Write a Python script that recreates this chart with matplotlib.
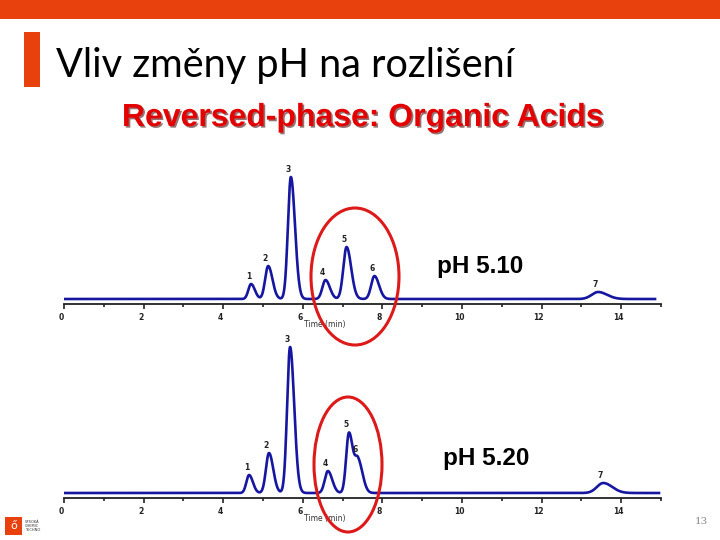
import matplotlib
matplotlib.use('Agg')
import matplotlib.pyplot as plt
import numpy as np
from matplotlib.patches import Ellipse, Rectangle
import matplotlib.patheffects as pe
import matplotlib.transforms as mtransforms
from matplotlib.ticker import MultipleLocator

# ---------------- data ----------------
peak_labels = ['1', '2', '3', '4', '5', '6', '7']

# pH 5.10 chromatogram: retention time (min), height (rel. units), sigma (min)
top_rt = [4.70, 5.13, 5.70, 6.57, 7.10, 7.80, 13.42]
top_height = [15, 33, 122, 19, 52, 23, 7]
top_sigma = [0.068, 0.076, 0.074, 0.078, 0.082, 0.082, 0.16]

# pH 5.20 chromatogram
bot_rt = [4.65, 5.15, 5.68, 6.63, 7.16, 7.39, 13.55]
bot_height = [18, 40, 146, 22, 60, 32, 10]
bot_sigma = [0.068, 0.076, 0.074, 0.078, 0.070, 0.080, 0.16]

x_ticks = [0, 2, 4, 6, 8, 10, 12, 14]
x_label = 'Time (min)'
ph_labels = ['pH 5.10', 'pH 5.20']

title = 'Vliv změny pH na rozlišení'
subtitle = 'Reversed-phase: Organic Acids'
page_no = '13'

# ---------------- figure ----------------
W, H = 720, 540
fig = plt.figure(figsize=(7.2, 5.4), dpi=100)
fig.patch.set_facecolor('white')

ORANGE = '#E8410E'
BLUE = '#1616A0'
RED = '#DD1A1A'

def fx(px):
    return px / W

def fy(py):
    return 1 - py / H

def chromatogram(t, rts, hs, sigs, tail=1.4):
    t = np.asarray(t, dtype=float)
    y = np.zeros_like(t)
    for rt, h, s in zip(rts, hs, sigs):
        sl = np.where(t < rt, s, s * tail)
        y += h * np.exp(-0.5 * ((t - rt) / sl) ** 2)
    return y

def make_axes(axis_py, top_py, rts, hs, sigs, t_end):
    left, right = 64, 661
    ax = fig.add_axes([fx(left), fy(axis_py), fx(right - left), (axis_py - top_py) / H])
    t = np.linspace(0, t_end, 4000)
    y = chromatogram(t, rts, hs, sigs)
    ax.plot(t, y, color=BLUE, lw=1.9, solid_joinstyle='round')
    ax.set_xlim(0, 15)
    ax.set_ylim(-5, axis_py - top_py - 5)
    for s in ['top', 'right', 'left']:
        ax.spines[s].set_visible(False)
    ax.spines['bottom'].set_linewidth(1.3)
    ax.spines['bottom'].set_color('#222222')
    ax.set_yticks([])
    ax.set_xticks(x_ticks)
    ax.xaxis.set_minor_locator(MultipleLocator(1))
    ax.tick_params(axis='x', which='major', length=3.5, width=1.2, direction='out',
                   labelsize=5.5, pad=3, colors='#222222')
    ax.tick_params(axis='x', which='minor', length=2, width=1.2, direction='out', colors='#222222')
    off = mtransforms.ScaledTranslation(-3 / 100, 0, fig.dpi_scale_trans)
    for lab in ax.get_xticklabels():
        lab.set_transform(lab.get_transform() + off)
        lab.set_fontweight('bold')
    ax.patch.set_alpha(0)
    label_y = chromatogram(rts, rts, hs, sigs)
    for lab, rt, h in zip(peak_labels, rts, label_y):
        ax.annotate(lab, (rt, h), xytext=(-2, 2.5), textcoords='offset points',
                    ha='center', va='bottom', fontsize=5.5, fontweight='bold', color='#222222')
    xl = ax.text(6.56, -5, x_label, transform=ax.transData, ha='center', va='top',
                 fontsize=5.5, color='#333333')
    xl.set_transform(xl.get_transform() + mtransforms.ScaledTranslation(0, -16 / 100, fig.dpi_scale_trans))
    return ax

ax_top = make_axes(304, 165, top_rt, top_height, top_sigma, 14.85)
ax_bot = make_axes(498, 335, bot_rt, bot_height, bot_sigma, 14.95)

# ---------------- overlay / slide decoration ----------------
ov = fig.add_axes([0, 0, 1, 1], zorder=10)
ov.set_xlim(0, W)
ov.set_ylim(H, 0)
ov.axis('off')
ov.patch.set_alpha(0)

ov.add_patch(Rectangle((0, 0), W, 19, color=ORANGE, lw=0))
ov.add_patch(Rectangle((24, 32), 16, 55, color=ORANGE, lw=0))

ov.text(56, 66, title, fontsize=28.6, family=['Lato', 'DejaVu Sans'], color='black',
        ha='left', va='center')

ov.text(363, 118, subtitle, fontsize=23, family=['Liberation Sans'],
        fontweight='bold', color='#E50000', ha='center', va='center',
        path_effects=[pe.withSimplePatchShadow(offset=(1.2, -1.2), shadow_rgbFace='#400000', alpha=0.55)])

ov.text(437, 266, ph_labels[0], fontsize=17.5, family='Liberation Sans', fontweight='bold',
        color='black', ha='left', va='center')
ov.text(443, 458, ph_labels[1], fontsize=17.5, family='Liberation Sans', fontweight='bold',
        color='black', ha='left', va='center')

ov.add_patch(Ellipse((355, 276.5), 88, 137, fill=False, ec=RED, lw=2.2))
ov.add_patch(Ellipse((348, 464.5), 68, 135, fill=False, ec=RED, lw=2.2))

# logo
ov.add_patch(Rectangle((5, 517), 17, 18, color=ORANGE, lw=0))
ov.text(13.5, 526, 'ő', fontsize=8, color='white', ha='center', va='center')
ov.text(25, 526, 'VYSOKÁ\nCHEMIC\nTECHNO', fontsize=2.6, color='#333333', ha='left',
        va='center', linespacing=1.1)

ov.text(701, 522, page_no, fontsize=7.5, color='#888888', ha='center', va='center',
        family='DejaVu Serif')

fig.savefig('out.png', dpi=100)
